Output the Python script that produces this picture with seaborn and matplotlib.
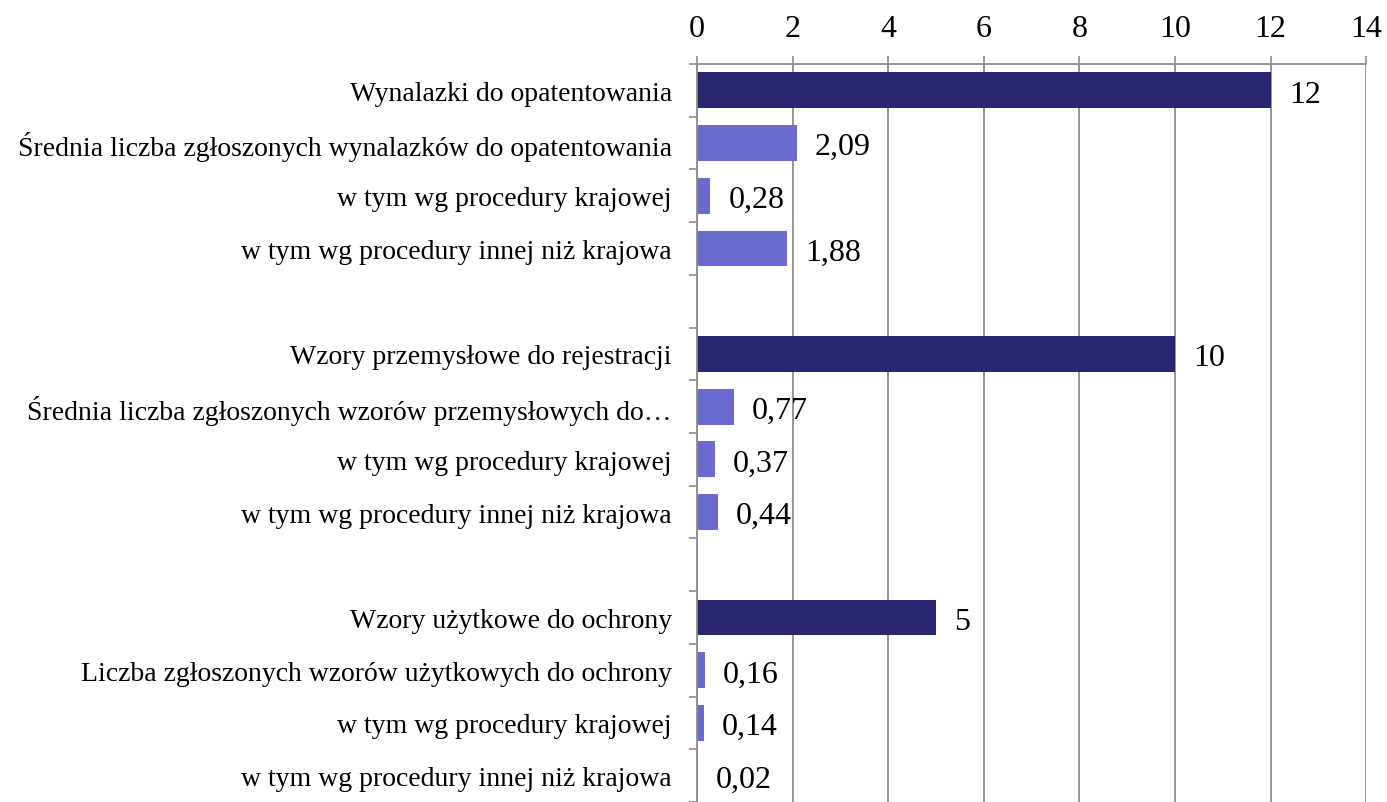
import matplotlib
matplotlib.use("Agg")
import matplotlib.pyplot as plt
import numpy as np
import pandas as pd
import seaborn as sns

# rows from top to bottom; "" marks an empty spacer row
labels = [
    "Wynalazki do opatentowania",
    "Średnia liczba zgłoszonych wynalazków do opatentowania",
    "w tym wg procedury krajowej",
    "w tym wg procedury innej niż krajowa",
    "",
    "Wzory przemysłowe do rejestracji",
    "Średnia liczba zgłoszonych wzorów przemysłowych do…",
    "w tym wg procedury krajowej",
    "w tym wg procedury innej niż krajowa",
    "",
    "Wzory użytkowe do ochrony",
    "Liczba zgłoszonych wzorów użytkowych do ochrony",
    "w tym wg procedury krajowej",
    "w tym wg procedury innej niż krajowa",
]
values = [12, 2.09, 0.28, 1.88, np.nan, 10, 0.77, 0.37, 0.44, np.nan, 5, 0.16, 0.14, 0.02]
value_text = ["12", "2,09", "0,28", "1,88", "", "10", "0,77", "0,37", "0,44", "", "5", "0,16", "0,14", "0,02"]
is_total = [True, False, False, False, False, True, False, False, False, False, True, False, False, False]

DARK = "#29286F"
LIGHT = "#6B6BCF"
GRID = "#8C8C8C"

df = pd.DataFrame({
    "row": [f"r{i}" for i in range(len(labels))],
    "value": values,
    "kind": ["total" if t else "detail" for t in is_total],
})

sns.set_theme(style="white")
plt.rcParams["font.family"] = ["Liberation Serif", "DejaVu Serif"]
plt.rcParams["text.color"] = "black"
plt.rcParams["xtick.color"] = "black"
plt.rcParams["ytick.color"] = "black"

fig = plt.figure(figsize=(13.87, 8.03), dpi=100)
ax = fig.add_axes([0.5025, 0.0, 0.4825, 0.919])

sns.barplot(data=df, x="value", y="row", hue="kind", palette={"total": DARK, "detail": LIGHT},
            orient="h", width=0.68, dodge=False, legend=False, saturation=1,
            linewidth=0, ax=ax)

ax.set_xlim(0, 14)
ax.set_ylim(len(labels) - 0.5, -0.5)
ax.set_xticks(np.arange(0, 15, 2))
ax.xaxis.tick_top()
ax.tick_params(axis="x", top=True, length=6, width=1.2, color=GRID, labelcolor="black",
               labelsize=23, pad=9)
ax.grid(axis="x", color=GRID, linewidth=1.3)
ax.set_axisbelow(True)

ax.set_yticks(range(len(labels)))
ax.set_yticklabels(labels)
ax.set_yticks(np.arange(-0.5, len(labels), 1), minor=True)
ax.tick_params(axis="y", which="major", length=0, labelsize=20, pad=18, labelcolor="black")
ax.tick_params(axis="y", which="minor", left=True, length=6, width=1.2, color=GRID)
ax.set_xlabel("")
ax.set_ylabel("")

for side in ["right", "bottom"]:
    ax.spines[side].set_visible(False)
for side in ["left", "top"]:
    ax.spines[side].set_color(GRID)
    ax.spines[side].set_linewidth(1.3)

for i, (v, txt) in enumerate(zip(values, value_text)):
    if txt:
        ax.text(v + 0.38, i + 0.07, txt, va="center", ha="left", fontsize=23, color="black")

fig.savefig("out.png", dpi=100)
